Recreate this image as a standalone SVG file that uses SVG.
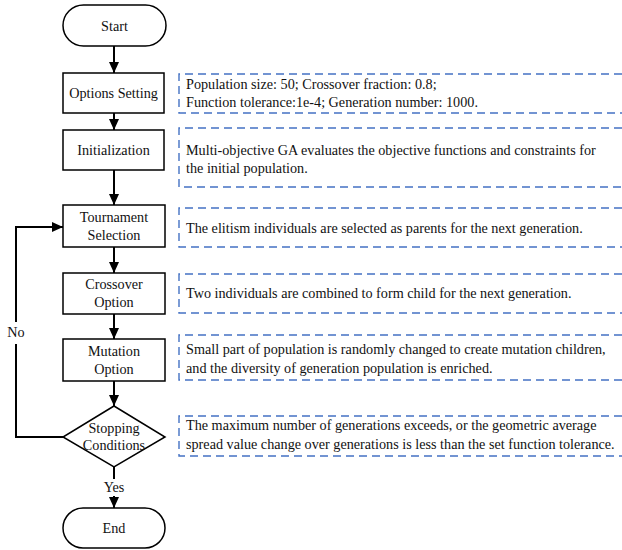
<svg xmlns="http://www.w3.org/2000/svg" width="622" height="550" viewBox="0 0 622 550" font-family="'Liberation Serif', serif">
<style>
.node{fill:#fff;stroke:#000;stroke-width:1.5}
.t{font-size:14.2px;fill:#111}
.c{text-anchor:middle}
.conn{fill:none;stroke:#000;stroke-width:2}
.note{fill:none;stroke:#4472C4;stroke-width:1.4;stroke-dasharray:8 5}
</style>
<defs>
<marker id="arr" markerUnits="userSpaceOnUse" markerWidth="11" markerHeight="10" refX="11" refY="5" orient="auto">
<path d="M0,0 L11,5 L0,10 z" fill="#000"/>
</marker>
</defs>
<rect width="622" height="550" fill="#fff"/>

<g id="connectors">
<line class="conn" x1="114" y1="46" x2="114" y2="73" marker-end="url(#arr)"/>
<line class="conn" x1="114" y1="113" x2="114" y2="130" marker-end="url(#arr)"/>
<line class="conn" x1="114" y1="170" x2="114" y2="205" marker-end="url(#arr)"/>
<line class="conn" x1="114" y1="247" x2="114" y2="273" marker-end="url(#arr)"/>
<line class="conn" x1="114" y1="314" x2="114" y2="339" marker-end="url(#arr)"/>
<line class="conn" x1="114" y1="381" x2="114" y2="406" marker-end="url(#arr)"/>
<line class="conn" x1="114" y1="467" x2="114" y2="479"/>
<line class="conn" x1="114" y1="496" x2="114" y2="508" marker-end="url(#arr)"/>
<polyline class="conn" points="63,437 16,437 16,344"/>
<polyline class="conn" points="16,322 16,227 63,227" marker-end="url(#arr)"/>
<text class="t c" x="114" y="492" font-family="'Liberation Serif', serif">Yes</text>
<text class="t c" x="16" y="337" font-family="'Liberation Serif', serif">No</text>
</g>

<g id="start" font-family="'Liberation Serif', serif">
<rect class="node" x="63" y="5" width="103" height="41" rx="20.5"/>
<text class="t c" x="114.5" y="31">Start</text>
</g>
<g id="options" font-family="'Liberation Serif', serif">
<rect class="node" x="63" y="73" width="101" height="40"/>
<text class="t c" x="113.5" y="98">Options Setting</text>
</g>
<g id="init" font-family="'Liberation Serif', serif">
<rect class="node" x="63" y="130" width="101" height="40"/>
<text class="t c" x="113.5" y="155">Initialization</text>
</g>
<g id="tournament" font-family="'Liberation Serif', serif">
<rect class="node" x="63" y="205" width="102" height="42"/>
<text class="t c" x="114" y="222">Tournament</text>
<text class="t c" x="114" y="240">Selection</text>
</g>
<g id="crossover" font-family="'Liberation Serif', serif">
<rect class="node" x="63" y="273" width="102" height="41"/>
<text class="t c" x="114" y="289">Crossover</text>
<text class="t c" x="114" y="307">Option</text>
</g>
<g id="mutation" font-family="'Liberation Serif', serif">
<rect class="node" x="63" y="339" width="102" height="42"/>
<text class="t c" x="114" y="356">Mutation</text>
<text class="t c" x="114" y="374">Option</text>
</g>
<g id="stopping" font-family="'Liberation Serif', serif">
<polygon class="node" points="114,406 165,437 114,467 63,437"/>
<text class="t c" x="114" y="433">Stopping</text>
<text class="t c" x="114" y="450">Conditions</text>
</g>
<g id="end" font-family="'Liberation Serif', serif">
<rect class="node" x="63" y="508" width="102" height="40" rx="20"/>
<text class="t c" x="114" y="533">End</text>
</g>

<g id="note1" font-family="'Liberation Serif', serif">
<path class="note" d="M622,74 H179 V113 H622"/>
<text class="t" x="186" y="89">Population size: 50; Crossover fraction: 0.8;</text>
<text class="t" x="186" y="107">Function tolerance:1e-4; Generation number: 1000.</text>
</g>
<g id="note2" font-family="'Liberation Serif', serif">
<path class="note" d="M622,128 H179 V187 H622"/>
<text class="t" x="186" y="155">Multi-objective GA evaluates the objective functions and constraints for</text>
<text class="t" x="186" y="173">the initial population.</text>
</g>
<g id="note3" font-family="'Liberation Serif', serif">
<path class="note" d="M622,208 H179 V247 H622"/>
<text class="t" x="186" y="233">The elitism individuals are selected as parents for the next generation.</text>
</g>
<g id="note4" font-family="'Liberation Serif', serif">
<path class="note" d="M622,274 H179 V313 H622"/>
<text class="t" x="186" y="298">Two individuals are combined to form child for the next generation.</text>
</g>
<g id="note5" font-family="'Liberation Serif', serif">
<path class="note" d="M622,335 H179 V380 H622"/>
<text class="t" x="186" y="354">Small part of population is randomly changed to create mutation children,</text>
<text class="t" x="186" y="373">and the diversity of generation population is enriched.</text>
</g>
<g id="note6" font-family="'Liberation Serif', serif">
<path class="note" d="M622,416 H179 V456 H622"/>
<text class="t" x="186" y="430">The maximum number of generations exceeds, or the geometric average</text>
<text class="t" x="186" y="449">spread value change over generations is less than the set function tolerance.</text>
</g>
</svg>
